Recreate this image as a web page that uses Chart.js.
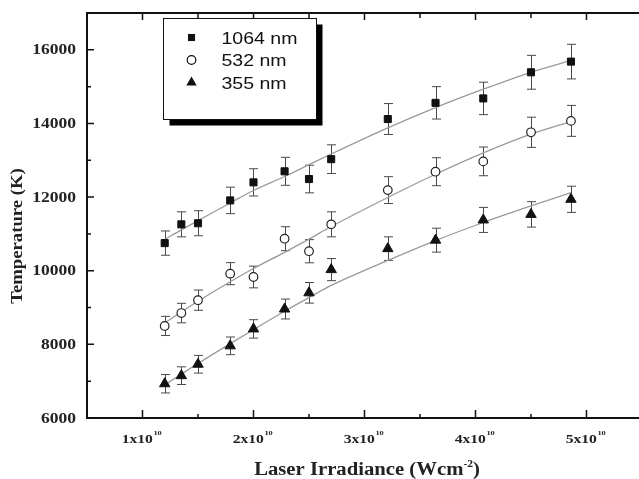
<!DOCTYPE html>
<html>
<head>
<meta charset="utf-8">
<title>Temperature vs Laser Irradiance</title>
<script src="https://cdn.jsdelivr.net/npm/chart.js@4/dist/chart.umd.min.js"></script>
<style>
  html, body { margin: 0; padding: 0; background: #fff; overflow: hidden; }
  #wrap { width: 639px; height: 479px; }
</style>
</head>
<body>
<div id="wrap"><canvas id="myChart" width="639" height="479"></canvas></div>
<script>
// irradiance in units of 1x10^10 W/cm2
var irradiance = [1.2, 1.35, 1.5, 1.79, 2.0, 2.28, 2.5, 2.7, 3.21, 3.64, 4.07, 4.5, 4.86];

var series = ['1064 nm', '532 nm', '355 nm'];

var temp1064 = [10750, 11260, 11290, 11910, 12400, 12700, 12490, 13030, 14120, 14560, 14680, 15390, 15680];
var err1064  = [330, 340, 340, 360, 370, 380, 375, 390, 420, 440, 440, 460, 470];

var temp532 = [8500, 8850, 9200, 9920, 9830, 10870, 10530, 11260, 12190, 12690, 12970, 13760, 14070];
var err532  = [260, 265, 275, 300, 295, 325, 315, 340, 365, 380, 390, 410, 420];

var temp355 = [6930, 7150, 7460, 7960, 8420, 8960, 9400, 10030, 10600, 10830, 11380, 11530, 11940];
var err355  = [250, 240, 240, 240, 250, 270, 280, 300, 320, 325, 340, 345, 355];

// fitted curves (grey lines), read at the same irradiance values
var fit1064 = [10850, 11110, 11360, 11840, 12180, 12560, 12880, 13170, 13880, 14430, 14930, 15390, 15710];
var fit532  = [8580, 8880, 9170, 9700, 10060, 10500, 10860, 11200, 11990, 12620, 13200, 13710, 14050];
var fit355  = [6900, 7190, 7480, 8020, 8400, 8900, 9270, 9600, 10280, 10820, 11310, 11760, 12120];

var xTicks = [1, 2, 3, 4, 5];
var xMinor = [1.5, 2.5, 3.5, 4.5];
var yTicks = [6000, 8000, 10000, 12000, 14000, 16000];
var yMinor = [7000, 9000, 11000, 13000, 15000];

function toPoints(xs, ys) {
  return xs.map(function(x, i) { return { x: x, y: ys[i] }; });
}

// draws text stretched horizontally like the original figure
function wideText(ctx, text, x, y, sx, align) {
  ctx.save();
  ctx.translate(x, y);
  ctx.scale(sx, 1);
  ctx.textAlign = align || 'left';
  ctx.fillText(text, 0, 0);
  ctx.restore();
}

function marker(ctx, style, x, y, r) {
  ctx.save();
  ctx.lineWidth = 1.2;
  ctx.strokeStyle = '#111';
  ctx.fillStyle = '#111';
  ctx.beginPath();
  if (style === 'rect') {
    var h = r * Math.SQRT1_2;
    ctx.rect(x - h, y - h, 2 * h, 2 * h);
    ctx.fill();
  } else if (style === 'circle') {
    ctx.fillStyle = '#fff';
    ctx.arc(x, y, r, 0, Math.PI * 2);
    ctx.fill();
    ctx.stroke();
  } else {
    ctx.moveTo(x, y - r);
    ctx.lineTo(x + r * 0.866, y + r * 0.5);
    ctx.lineTo(x - r * 0.866, y + r * 0.5);
    ctx.closePath();
    ctx.fill();
  }
  ctx.restore();
}

var errorBars = {
  id: 'errorBars',
  beforeDatasetsDraw: function(chart) {
    var ctx = chart.ctx;
    var xs = chart.scales.x, ys = chart.scales.y;
    ctx.save();
    ctx.strokeStyle = '#4a4a4a';
    ctx.lineWidth = 1;
    chart.data.datasets.forEach(function(ds) {
      if (!ds.errors) return;
      ds.data.forEach(function(p, i) {
        var px = Math.round(xs.getPixelForValue(p.x)) + 0.5;
        var top = ys.getPixelForValue(p.y + ds.errors[i]);
        var bot = ys.getPixelForValue(p.y - ds.errors[i]);
        ctx.beginPath();
        ctx.moveTo(px, top); ctx.lineTo(px, bot);
        ctx.moveTo(px - 4.5, top); ctx.lineTo(px + 4.5, top);
        ctx.moveTo(px - 4.5, bot); ctx.lineTo(px + 4.5, bot);
        ctx.stroke();
      });
    });
    ctx.restore();
  }
};

var frameAndText = {
  id: 'frameAndText',
  afterDraw: function(chart) {
    var ctx = chart.ctx;
    var a = chart.chartArea;
    var xs = chart.scales.x, ys = chart.scales.y;
    ctx.save();

    // frame (right side is cut off in the original)
    ctx.strokeStyle = '#111';
    ctx.lineWidth = 2;
    ctx.beginPath();
    ctx.moveTo(chart.width, a.top);
    ctx.lineTo(a.left, a.top);
    ctx.lineTo(a.left, a.bottom);
    ctx.lineTo(chart.width, a.bottom);
    ctx.stroke();

    // ticks pointing inwards
    ctx.lineWidth = 1.5;
    ctx.beginPath();
    yTicks.forEach(function(v) {
      var py = ys.getPixelForValue(v);
      ctx.moveTo(a.left, py); ctx.lineTo(a.left + 7, py);
    });
    yMinor.forEach(function(v) {
      var py = ys.getPixelForValue(v);
      ctx.moveTo(a.left, py); ctx.lineTo(a.left + 4, py);
    });
    xTicks.forEach(function(v) {
      var px = xs.getPixelForValue(v);
      ctx.moveTo(px, a.bottom); ctx.lineTo(px, a.bottom - 8);
      ctx.moveTo(px, a.top); ctx.lineTo(px, a.top + 7);
    });
    xMinor.forEach(function(v) {
      var px = xs.getPixelForValue(v);
      ctx.moveTo(px, a.bottom); ctx.lineTo(px, a.bottom - 4);
      ctx.moveTo(px, a.top); ctx.lineTo(px, a.top + 5);
    });
    ctx.stroke();

    // y tick labels
    ctx.fillStyle = '#222';
    ctx.textBaseline = 'middle';
    ctx.font = 'bold 14px "Liberation Serif", "Times New Roman", serif';
    yTicks.forEach(function(v) {
      wideText(ctx, String(v), a.left - 11, ys.getPixelForValue(v) + 1, 1.25, 'right');
    });

    // x tick labels: "1x10" with superscript "10"
    ctx.textBaseline = 'alphabetic';
    xTicks.forEach(function(v) {
      var px = xs.getPixelForValue(v);
      var main = v + 'x10';
      ctx.font = 'bold 13px "Liberation Serif", serif';
      var w1 = ctx.measureText(main).width * 1.2;
      ctx.font = 'bold 7px "Liberation Serif", serif';
      var w2 = ctx.measureText('10').width * 1.2;
      var start = px - (w1 + w2) / 2 - 1;
      ctx.font = 'bold 13px "Liberation Serif", serif';
      wideText(ctx, main, start, 443, 1.2, 'left');
      ctx.font = 'bold 7px "Liberation Serif", serif';
      wideText(ctx, '10', start + w1 + 0.5, 435, 1.2, 'left');
    });

    // axis titles
    ctx.font = 'bold 18px "Liberation Serif", serif';
    var t = 'Laser Irradiance (Wcm';
    var tw = ctx.measureText(t).width * 1.15;
    ctx.font = 'bold 10px "Liberation Serif", serif';
    var sw = ctx.measureText('-2').width * 1.15;
    ctx.font = 'bold 18px "Liberation Serif", serif';
    var pw = ctx.measureText(')').width * 1.15;
    var x0 = 367 - (tw + sw + pw) / 2;
    wideText(ctx, t, x0, 475, 1.15, 'left');
    ctx.font = 'bold 10px "Liberation Serif", serif';
    wideText(ctx, '-2', x0 + tw, 467, 1.15, 'left');
    ctx.font = 'bold 18px "Liberation Serif", serif';
    wideText(ctx, ')', x0 + tw + sw, 475, 1.15, 'left');

    ctx.save();
    ctx.translate(18, 236);
    ctx.rotate(-Math.PI / 2);
    ctx.font = 'bold 17px "Liberation Serif", serif';
    ctx.textBaseline = 'middle';
    wideText(ctx, 'Temperature (K)', 0, 0, 1.1, 'center');
    ctx.restore();

    // legend box with drop shadow
    var lx = 163.5, ly = 18.5, lw = 153, lh = 101;
    ctx.fillStyle = '#000';
    ctx.fillRect(lx + 6, ly + 6, lw, lh);
    ctx.fillStyle = '#fff';
    ctx.fillRect(lx, ly, lw, lh);
    ctx.strokeStyle = '#111';
    ctx.lineWidth = 1;
    ctx.strokeRect(lx, ly, lw, lh);

    var styles = ['rect', 'circle', 'triangle'];
    var radii = [5, 4.3, 6];
    ctx.font = '16px "Liberation Sans", Arial, sans-serif';
    ctx.textBaseline = 'alphabetic';
    series.forEach(function(name, i) {
      var base = 43.5 + i * 22.5;
      marker(ctx, styles[i], 191.5, base - 6, radii[i]);
      ctx.fillStyle = '#111';
      wideText(ctx, name, 221.5, base, 1.22, 'left');
    });

    ctx.restore();
  }
};

var ctx = document.getElementById('myChart').getContext('2d');
var myChart = new Chart(ctx, {
  type: 'scatter',
  data: {
    datasets: [
      {
        label: series[0], data: toPoints(irradiance, temp1064), errors: err1064,
        pointStyle: 'rect', pointRadius: 5, backgroundColor: '#111', borderColor: '#111',
        borderWidth: 1, showLine: false, order: 0
      },
      {
        label: series[1], data: toPoints(irradiance, temp532), errors: err532,
        pointStyle: 'circle', pointRadius: 4.3, backgroundColor: '#fff', borderColor: '#222',
        borderWidth: 1.2, showLine: false, order: 0
      },
      {
        label: series[2], data: toPoints(irradiance, temp355), errors: err355,
        pointStyle: 'triangle', pointRadius: 6, backgroundColor: '#111', borderColor: '#111',
        borderWidth: 1, showLine: false, order: 0
      },
      {
        label: 'fit 1064', data: toPoints(irradiance, fit1064), showLine: true,
        borderColor: '#9a9a9a', borderWidth: 1.3, pointRadius: 0,
        cubicInterpolationMode: 'monotone', order: 1
      },
      {
        label: 'fit 532', data: toPoints(irradiance, fit532), showLine: true,
        borderColor: '#9a9a9a', borderWidth: 1.3, pointRadius: 0,
        cubicInterpolationMode: 'monotone', order: 1
      },
      {
        label: 'fit 355', data: toPoints(irradiance, fit355), showLine: true,
        borderColor: '#9a9a9a', borderWidth: 1.3, pointRadius: 0,
        cubicInterpolationMode: 'monotone', order: 1
      }
    ]
  },
  options: {
    responsive: false,
    animation: false,
    devicePixelRatio: 1,
    layout: { padding: { left: 87, top: 13, right: 0, bottom: 61 } },
    scales: {
      x: { type: 'linear', min: 0.5, max: 5.41, display: false },
      y: { type: 'linear', min: 6000, max: 17000, display: false }
    },
    plugins: {
      legend: { display: false },
      tooltip: { enabled: false }
    }
  },
  plugins: [errorBars, frameAndText]
});
</script>
</body>
</html>
